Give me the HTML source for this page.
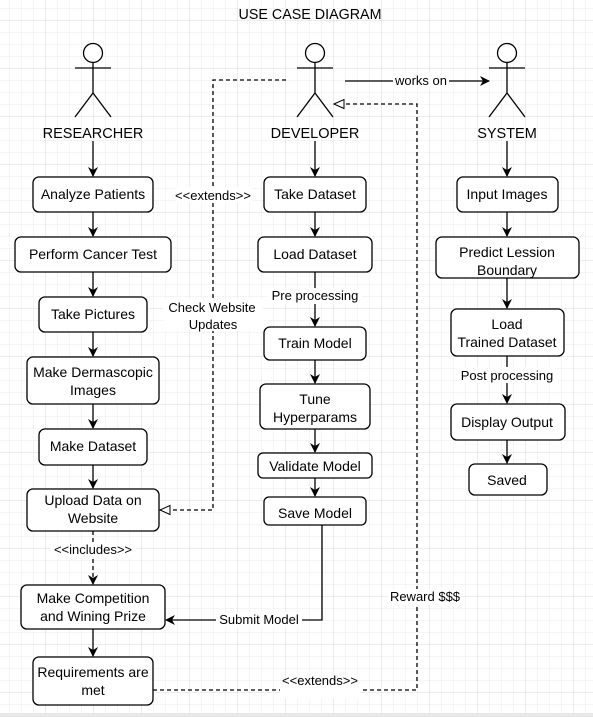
<!DOCTYPE html>
<html><head><meta charset="utf-8">
<style>
html,body{margin:0;padding:0;background:#fff;}
svg{display:block;}
text{font-family:"Liberation Sans",Arial,sans-serif;fill:#000;}
</style></head>
<body>
<svg width="593" height="717" viewBox="0 0 593 717" xmlns="http://www.w3.org/2000/svg">
<defs>
<pattern id="minor" x="9" y="8" width="12" height="12" patternUnits="userSpaceOnUse">
<path d="M0 0H12M0 0V12" stroke="#ebebeb" stroke-width="1" fill="none"/>
</pattern>
<pattern id="major" x="45" y="20" width="48" height="48" patternUnits="userSpaceOnUse">
<path d="M0 0H48M0 0V48" stroke="#d9d9d9" stroke-width="1" fill="none"/>
</pattern>
<marker id="a" viewBox="0 0 10 10" refX="9" refY="5" markerWidth="10" markerHeight="10" markerUnits="userSpaceOnUse" orient="auto">
<path d="M0 0L10 5L0 10L3 5Z" fill="#000"/>
</marker>
<marker id="h" viewBox="0 0 12 12" refX="11" refY="6" markerWidth="12" markerHeight="12" markerUnits="userSpaceOnUse" orient="auto">
<path d="M1 1.5L11 6L1 10.5Z" fill="#fff" stroke="#000" stroke-width="1"/>
</marker>
</defs>
<rect width="593" height="717" fill="url(#minor)"/>
<rect width="593" height="717" fill="url(#major)"/>
<rect x="0" y="713" width="593" height="4" fill="#e8e8e8"/>

<text x="310" y="19" font-size="14.3" text-anchor="middle">USE CASE DIAGRAM</text>

<g stroke="#000" stroke-width="1.3" fill="none">
<circle cx="93" cy="53" r="9.5" fill="#fff"/>
<path d="M93 62.5V93M75 68H111M93 93L75 117M93 93L111 117"/>
<circle cx="315" cy="53" r="9.5" fill="#fff"/>
<path d="M315 62.5V93M297 68H333M315 93L297 117M315 93L333 117"/>
<circle cx="507" cy="53" r="9.5" fill="#fff"/>
<path d="M507 62.5V93M489 68H525M507 93L489 117M507 93L525 117"/>

<g fill="#fff">
<rect x="33" y="177" width="120" height="35" rx="6"/>
<rect x="15" y="237" width="156" height="35" rx="6"/>
<rect x="39" y="297" width="108" height="35" rx="6"/>
<rect x="27" y="357" width="132" height="47" rx="6"/>
<rect x="39" y="429" width="108" height="36" rx="6"/>
<rect x="27" y="489" width="132" height="42" rx="6"/>
<rect x="21" y="585" width="144" height="44" rx="6"/>
<rect x="33" y="657" width="120" height="48" rx="6"/>

<rect x="264" y="177" width="102" height="35" rx="6"/>
<rect x="258" y="237" width="114" height="35" rx="6"/>
<rect x="264" y="327" width="102" height="33" rx="6"/>
<rect x="260" y="384" width="110" height="45" rx="6"/>
<rect x="258" y="453" width="114" height="25" rx="5"/>
<rect x="264" y="497" width="102" height="28" rx="5"/>

<rect x="457" y="177" width="101" height="35" rx="6"/>
<rect x="436" y="237" width="143" height="41" rx="6"/>
<rect x="451" y="309" width="113" height="47" rx="6"/>
<rect x="451" y="404" width="114" height="36" rx="6"/>
<rect x="469" y="464" width="78" height="31" rx="6"/>
</g>

<g marker-end="url(#a)">
<path d="M93 141V176"/><path d="M93 212V236"/><path d="M93 272V296"/><path d="M93 332V356"/>
<path d="M93 404V428"/><path d="M93 465V488"/><path d="M93 629V656"/>
<path d="M315 141V176"/><path d="M315 212V236"/><path d="M315 272V326"/><path d="M315 360V383"/>
<path d="M315 429V452"/><path d="M315 478V496"/>
<path d="M322 525V620H166"/>
<path d="M507 141V176"/><path d="M507 212V236"/><path d="M507 278V308"/><path d="M507 356V403"/>
<path d="M507 440V463"/>
<path d="M345 81H489"/>
</g>
<g stroke-dasharray="4 3">
<path d="M93 531V584" marker-end="url(#a)"/>
<path d="M286 80H213V510H160" marker-end="url(#h)"/>
<path d="M153 690H417V104H334" marker-end="url(#h)"/>
</g>
</g>

<g fill="#fff">
<rect x="393" y="73" width="56" height="16"/>
<rect x="268" y="288" width="94" height="16"/>
<rect x="457" y="367" width="100" height="16"/>
<rect x="50" y="542" width="86" height="16"/>
<rect x="216" y="612" width="86" height="16"/>
<rect x="280" y="682" width="80" height="16"/>
<rect x="176" y="187" width="76" height="16"/>
<rect x="163" y="299" width="100" height="32"/>
<rect x="388" y="589" width="74" height="16"/>
</g>

<g font-size="14" text-anchor="middle">
<text x="93" y="138" font-size="14.5">RESEARCHER</text>
<text x="315" y="138" font-size="14.5">DEVELOPER</text>
<text x="507" y="138" font-size="14.5">SYSTEM</text>

<text x="93" y="199">Analyze Patients</text>
<text x="93" y="259">Perform Cancer Test</text>
<text x="93" y="319">Take Pictures</text>
<text x="93" y="377">Make Dermascopic</text>
<text x="93" y="395">Images</text>
<text x="93" y="451">Make Dataset</text>
<text x="93" y="505">Upload Data on</text>
<text x="93" y="523">Website</text>
<text x="93" y="603">Make Competition</text>
<text x="93" y="621">and Wining Prize</text>
<text x="93" y="677">Requirements are</text>
<text x="93" y="695">met</text>

<text x="315" y="199">Take Dataset</text>
<text x="315" y="259">Load Dataset</text>
<text x="315" y="348">Train Model</text>
<text x="315" y="404">Tune</text>
<text x="315" y="422">Hyperparams</text>
<text x="315" y="471">Validate Model</text>
<text x="315" y="518">Save Model</text>

<text x="507" y="199">Input Images</text>
<text x="507" y="257">Predict Lession</text>
<text x="507" y="275">Boundary</text>
<text x="507" y="329">Load</text>
<text x="507" y="347">Trained Dataset</text>
<text x="507" y="427">Display Output</text>
<text x="507" y="485">Saved</text>

<g font-size="13">
<text x="421" y="85">works on</text>
<text x="315" y="300">Pre processing</text>
<text x="507" y="380">Post processing</text>
<text x="93" y="554">&lt;&lt;includes&gt;&gt;</text>
<text x="259" y="624">Submit Model</text>
<text x="320" y="685">&lt;&lt;extends&gt;&gt;</text>
<text x="213" y="200">&lt;&lt;extends&gt;&gt;</text>
<text x="212" y="312">Check Website</text>
<text x="213" y="329">Updates</text>
<text x="425" y="601">Reward $$$</text>
</g>
</g>
</svg>
</body></html>
